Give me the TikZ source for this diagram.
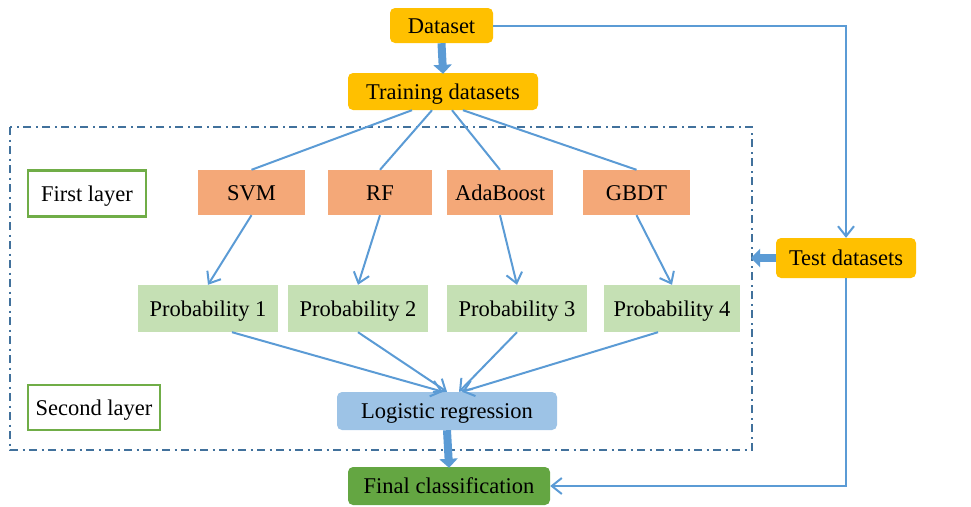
\documentclass[tikz,border=0pt]{standalone}
\usepackage{fontspec}
\setmainfont{Liberation Serif}
\usetikzlibrary{arrows.meta}
\definecolor{dataY}{HTML}{FFC000}
\definecolor{clfO}{HTML}{F4A878}
\definecolor{probG}{HTML}{C5E0B4}
\definecolor{lrB}{HTML}{9DC3E6}
\definecolor{finG}{HTML}{64A642}
\definecolor{lineB}{HTML}{5B9BD5}
\definecolor{frameB}{HTML}{41719C}
\definecolor{layerG}{HTML}{70AD47}
\tikzset{
  every node/.style={font=\fontsize{22.5}{26}\selectfont, text=black, inner sep=0pt,
    text height=15pt, text depth=0pt},
  databox/.style={fill=dataY, rounded corners=5pt},
  clfbox/.style={fill=clfO, minimum height=45pt},
  probbox/.style={fill=probG, minimum height=47pt},
  layerbox/.style={draw=layerG, line width=2.4pt, fill=white},
  thin/.style={draw=lineB, line width=2pt},
  thinarrow/.style={thin, -{Straight Barb[length=10pt,width=16pt,line width=2pt]}},
  thickarrow/.style={draw=lineB, line width=8pt, -{Triangle[length=9pt,width=18pt]}, shorten >=-1pt},
  frame/.style={draw=frameB, line width=2.2pt, dash pattern=on 8pt off 4.5pt on 2pt off 4.5pt}
}
\begin{document}
\begin{tikzpicture}[x=1pt,y=-1pt]
\useasboundingbox (0,0) rectangle (971,506);

% dash-dot frame around both layers
\draw[frame] (10,127) rectangle (752,450);
\coordinate (frameE) at (752,258);

% data nodes
\node[databox, minimum width=103pt, minimum height=35pt] (data) at (441.5,25.5) {Dataset};
\node[databox, minimum width=190pt, minimum height=37pt] (train) at (443,91.5) {Training datasets};
\node[databox, minimum width=140pt, minimum height=40pt] (test) at (846,258) {Test datasets};

% layer labels
\node[layerbox, minimum width=118pt, minimum height=46pt] (l1) at (87,193.5) {First layer};
\node[layerbox, minimum width=132pt, minimum height=45pt] (l2) at (94,407.5) {Second layer};

% base classifiers
\node[clfbox, minimum width=107pt] (svm) at (251.5,192.5) {SVM};
\node[clfbox, minimum width=104pt] (rf)  at (380,192.5) {RF};
\node[clfbox, minimum width=106pt] (ada) at (500,192.5) {AdaBoost};
\node[clfbox, minimum width=107pt] (gbdt) at (636.5,192.5) {GBDT};

% probability outputs
\node[probbox, minimum width=140pt] (p1) at (208,308.5) {Probability 1};
\node[probbox, minimum width=140pt] (p2) at (358,308.5) {Probability 2};
\node[probbox, minimum width=140pt] (p3) at (517,308.5) {Probability 3};
\node[probbox, minimum width=136pt] (p4) at (672,308.5) {Probability 4};

% meta learner and result
\node[fill=lrB, rounded corners=5pt, minimum width=220pt, minimum height=38pt] (lr) at (447,411) {Logistic regression};
\node[fill=finG, rounded corners=5pt, minimum width=202pt, minimum height=38pt] (final) at (449,486) {Final classification};

% connectors
\draw[thickarrow] (data.south) -- (train.north);
\draw[thin] ([xshift=-31pt]train.south) -- (svm.north);
\draw[thin] ([xshift=-11pt]train.south) -- (rf.north);
\draw[thin] ([xshift=9pt]train.south) -- (ada.north);
\draw[thin] ([xshift=20pt]train.south) -- (gbdt.north);

\draw[thinarrow] (svm.south) -- (p1.north);
\draw[thinarrow] (rf.south) -- (p2.north);
\draw[thinarrow] (ada.south) -- (p3.north);
\draw[thinarrow] (gbdt.south) -- (p4.north);

\draw[thinarrow] ([xshift=24pt]p1.south) -- ([xshift=-4pt]lr.north);
\draw[thinarrow] (p2.south) -- ([xshift=0pt]lr.north);
\draw[thinarrow] (p3.south) -- ([xshift=12pt]lr.north);
\draw[thinarrow] ([xshift=-14pt]p4.south) -- ([xshift=15pt]lr.north);

\draw[thickarrow] (lr.south) -- (final.north);

\draw[thinarrow] (data.east) -| (test.north);
\draw[thickarrow] (test.west) -- (frameE);
\draw[thinarrow] (test.south) |- (final.east);
\end{tikzpicture}
\end{document}
